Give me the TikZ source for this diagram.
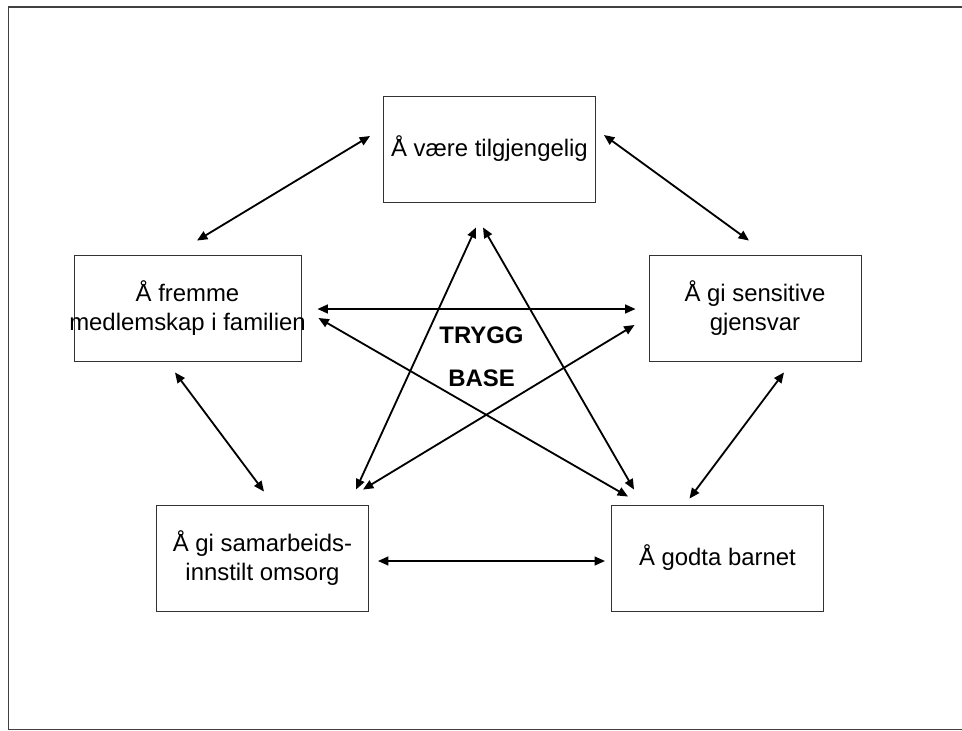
\documentclass[tikz,border=0pt]{standalone}
\usepackage{fontspec}
\setmainfont{Liberation Sans}
\usetikzlibrary{arrows.meta,positioning}

\begin{document}
\begin{tikzpicture}[x=0.025cm, y=-0.025cm, >={Triangle[length=2.6mm,width=2.2mm]},
  box/.style={draw=black!80, line width=0.6pt, minimum width=5.3cm, minimum height=2.65cm,
    inner sep=0pt, align=center, font=\fontsize{17}{21}\selectfont},
  link/.style={<->, line width=1.3pt}]
  \useasboundingbox (0,0) rectangle (962,731);
  \draw[black!75, line width=1pt] (963,7) -- (8.5,7) -- (8.5,729.5) -- (963,729.5);

  \node[box] (top) at (489.5,149) {Å være tilgjengelig};
  \node[box,minimum width=5.675cm] (left) at (187.5,308) {Å fremme\\\makebox[0pt]{medlemskap i familien}};
  \node[box,right=8.675cm of left] (right) {Å gi sensitive\\gjensvar};
  \node[box] (bl) at (262.5,558) {Å gi samarbeids-\\innstilt omsorg};
  \node[box,right=6.05cm of bl] (br) {Å godta barnet};
  \node[font=\fontsize{17}{30.5}\selectfont\bfseries, align=center] (base) at (481.5,357) {TRYGG\\BASE};

  % outer ring
  \draw[link] ([shift={(-13,-13)}]top.west) -- ([shift={(9.5,-14)}]left.north);
  \draw[link] ([shift={(8,-14)}]top.east) -- ([shift={(-6,-14)}]right.north);
  \draw[link] ([shift={(-12.5,11)}]left.south) -- ([shift={(1.5,-13)}]bl.north);
  \draw[link] ([shift={(29,11)}]right.south) -- ([shift={(-28,-6)}]br.north);
  \draw[link] ([shift={(9,3)}]bl.east) -- ([shift={(-6,3)}]br.west);

  % star
  \draw[link] ([shift={(16,1)}]left.east) -- ([shift={(-13,1)}]right.west);
  \draw[link] ([shift={(17,10)}]left.east) -- ([shift={(17,-8)}]br.north west);
  \draw[link] ([shift={(-13.5,25)}]top.south) -- ([shift={(-13,-15)}]bl.north east);
  \draw[link] ([shift={(-6.5,25)}]top.south) -- ([shift={(23,-15)}]br.north west);
  \draw[link] ([shift={(-14,17)}]right.west) -- ([shift={(-6,-15)}]bl.north east);
\end{tikzpicture}
\end{document}
